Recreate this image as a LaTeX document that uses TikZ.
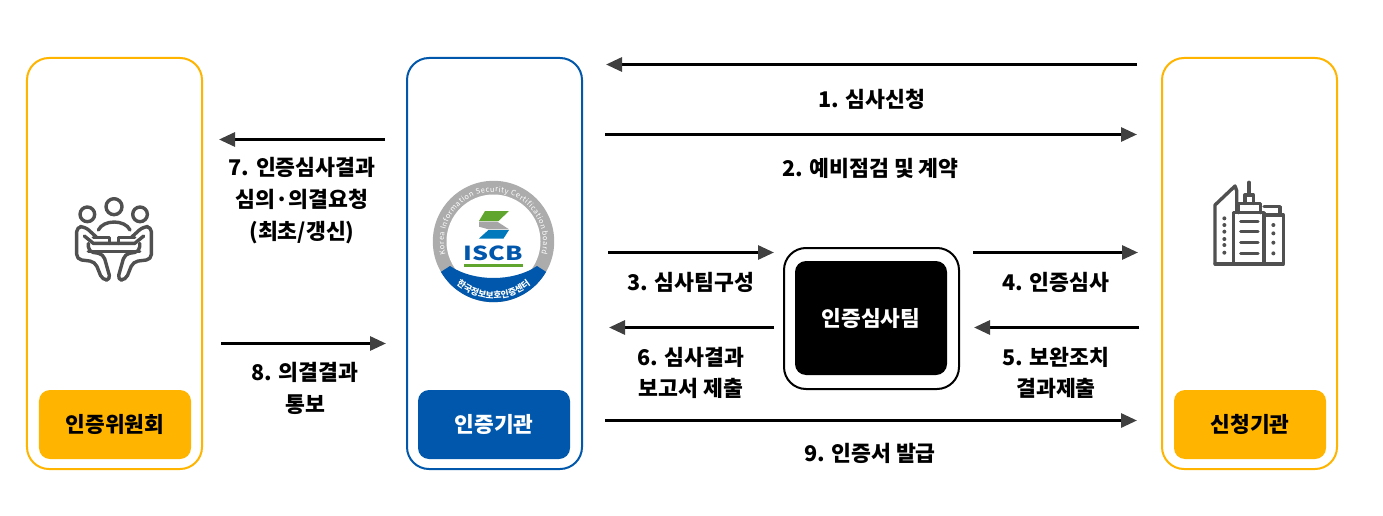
\documentclass[tikz,border=0pt]{standalone}
\usepackage{fontspec}
\setmainfont{Noto Sans CJK KR}
\usetikzlibrary{arrows.meta, decorations.text}
\definecolor{Gold}{HTML}{FFB400}
\definecolor{Navy}{HTML}{0057AB}
\definecolor{Ink}{HTML}{505050}
\definecolor{Leaf}{HTML}{5FA52E}
\tikzset{
    panel/.style = {draw, line width = 0.4mm, rounded corners = 4.4mm, minimum width = 35mm, minimum height = 82.2mm},
    tag/.style = {rounded corners = 2.2mm, minimum width = 30.4mm, minimum height = 13.8mm, font = \fontsize{12.2}{14}\selectfont\bfseries},
    step label/.style = {align = center, font = \fontsize{12.3}{18}\selectfont\bfseries},
    flow/.style = {line width = 0.6mm, -{Triangle[length = 3.2mm, width = 2.8mm, color = black!75]}},
    icon/.style = {draw = Ink, line width = 0.68mm, line join = round, line cap = round}
}
\begin{document}
\begin{tikzpicture}[x = 0.2mm, y = -0.2mm]
    \useasboundingbox (0, 0) rectangle (1383, 516);
    \node[panel, draw = Gold] (Committee) at (114.5, 263.5) {};
    \node[panel, draw = Navy] (Agency) at (494.5, 263.5) {};
    \node[panel, draw = Gold] (Applicant) at (1249.5, 263.5) {};
    \node[tag, fill = Gold] (Committee Tag) at (115, 424.5) {인증위원회};
    \node[tag, fill = Navy, text = white] (Agency Tag) at (494, 424.5) {인증기관};
    \node[tag, fill = Gold] (Applicant Tag) at (1250, 424.5) {신청기관};
    \node[draw, line width = 0.4mm, rounded corners = 4.4mm, minimum width = 35mm, minimum height = 28.2mm] (Team Frame) at (871.5, 318.5) {};
    \node[fill = black, text = white, rounded corners = 2.2mm, minimum width = 30.4mm, minimum height = 22.8mm, font = \fontsize{12.2}{14}\selectfont\bfseries] (Team) at (871, 318) {인증심사팀};
    \coordinate (Flow1 Start) at (1137, 64.5);
    \coordinate (Flow1 End) at (606, 64.5);
    \coordinate (Flow2 Start) at (605, 134.5);
    \coordinate (Flow2 End) at (1137, 134.5);
    \coordinate (Flow3 Start) at (608, 252.5);
    \coordinate (Flow3 End) at (774, 252.5);
    \coordinate (Flow4 Start) at (973, 252.5);
    \coordinate (Flow4 End) at (1138, 252.5);
    \coordinate (Flow5 Start) at (1139, 327.5);
    \coordinate (Flow5 End) at (974, 327.5);
    \coordinate (Flow6 Start) at (774, 327.5);
    \coordinate (Flow6 End) at (609, 327.5);
    \coordinate (Flow7 Start) at (385, 139.5);
    \coordinate (Flow7 End) at (219, 139.5);
    \coordinate (Flow8 Start) at (221, 343.5);
    \coordinate (Flow8 End) at (386, 343.5);
    \coordinate (Flow9 Start) at (605, 420.5);
    \coordinate (Flow9 End) at (1137, 420.5);
    \draw[flow] (Flow1 Start) -- (Flow1 End);
    \draw[flow] (Flow2 Start) -- (Flow2 End);
    \draw[flow] (Flow3 Start) -- (Flow3 End);
    \draw[flow] (Flow4 Start) -- (Flow4 End);
    \draw[flow] (Flow5 Start) -- (Flow5 End);
    \draw[flow] (Flow6 Start) -- (Flow6 End);
    \draw[flow] (Flow7 Start) -- (Flow7 End);
    \draw[flow] (Flow8 Start) -- (Flow8 End);
    \draw[flow] (Flow9 Start) -- (Flow9 End);
    \node[step label] (Label1) at (871.5, 99) {1. 심사신청};
    \node[step label] (Label2) at (870.5, 168) {2. 예비점검 및 계약};
    \node[step label] (Label3) at (691, 282) {3. 심사팀구성};
    \node[step label] (Label4) at (1055.5, 282) {4. 인증심사};
    \node[step label] (Label5) at (1056, 373) {5. 보완조치\\결과제출};
    \node[step label] (Label6) at (691, 373) {6. 심사결과\\보고서 제출};
    \node[step label] (Label7) at (302, 200.5) {7. 인증심사결과\\심의·의결요청\\(최초/갱신)};
    \node[step label] (Label8) at (305, 388.5) {8. 의결결과\\통보};
    \node[step label] (Label9) at (870, 453) {9. 인증서 발급};
    \begin{scope}[shift = {(50, 180)}, x = 0.0667mm, y = -0.0667mm, icon]
        \draw (192, 80) circle (24);
        \draw (112, 103) circle (22);
        \draw (270, 103) circle (22);
        \draw (145, 150) .. controls (160, 118) and (225, 118) .. (240, 150);
        \draw[rounded corners = 1mm] (140, 172) -- (105, 140) -- (80, 140) -- (80, 238) -- (135, 245) -- (157, 300) -- (182, 300) -- (160, 222) -- (115, 215) -- (115, 190);
        \draw[rounded corners = 1mm] (244, 172) -- (279, 140) -- (304, 140) -- (304, 238) -- (249, 245) -- (227, 300) -- (202, 300) -- (224, 222) -- (269, 215) -- (269, 190);
        \draw (103, 168) -- (130, 190) -- (254, 190) -- (281, 168);
        \draw (130, 172) -- (178, 172) -- (178, 190);
        \draw (254, 172) -- (206, 172) -- (206, 190);
        \draw (115, 215) -- (269, 215);
    \end{scope}
    \begin{scope}[shift = {(1190, 170)}, x = 0.0667mm, y = -0.0667mm, icon]
        \draw (75, 282) -- (75, 105) -- (135, 48) -- (140, 62) -- (140, 125);
        \draw (75, 282) -- (280, 282) -- (280, 135) -- (222, 135);
        \draw (130, 282) -- (130, 128) -- (222, 128) -- (222, 282);
        \draw (145, 128) -- (145, 100) -- (212, 100) -- (212, 128);
        \draw (165, 100) -- (165, 75) -- (190, 75) -- (190, 100);
        \draw (177, 75) -- (177, 37);
        \draw (222, 110) -- (270, 110) -- (270, 135);
        \foreach \rowy in {155, 185, 218, 250}
            \draw (152, \rowy) -- (204, \rowy);
        \foreach \doty in {145, 165, 185, 207, 225, 248}
            \fill[Ink] (103, \doty) circle (6);
        \foreach \doty in {165, 190, 218, 250}
            \fill[Ink] (250, \doty) circle (6);
    \end{scope}
    \begin{scope}[shift = {(493.5, 241.5)}, x = 0.2mm, y = 0.2mm]
        \fill[gray!65] (0, 0) circle (60.7);
        \fill[white] (0, 0) circle (47);
        \fill[Navy] (210:60.7) arc[start angle = 210, end angle = 330, radius = 60.7] -- (43.5, -24.5) .. controls (20, -40.5) and (-20, -40.5) .. (-43.5, -24.5) -- cycle;
        \path[decorate, decoration = {text along path, text = {|\fontsize{4.2}{5}\selectfont\color{white}|Korea Information Security Certification board}, text align = {fit to path}}] (195:49.5) arc[start angle = 195, end angle = -15, radius = 49.5];
        \path[decorate, decoration = {text along path, text = {|\fontsize{5}{6}\selectfont\bfseries\color{white}|한국정보보호인증센터}, text align = {center}}] (222:57) arc[start angle = 222, end angle = 318, radius = 57];
        \fill[Leaf] (-8.5, 30.5) -- (15.5, 30.5) -- (5, 20.5) -- (-14.5, 20.5) -- cycle;
        \fill[gray!70] (-14.5, 19.8) -- (3.8, 19.8) -- (15.5, 12.2) -- (-5, 12.2) -- (-14.5, 14.8) -- cycle;
        \fill[Navy!80!cyan] (-5, 11.5) -- (15.5, 11.5) -- (10, 3) -- (-14.5, 3) -- cycle;
    \end{scope}
    \node[text = Navy, font = \fontsize{11}{11}\selectfont\bfseries, inner sep = 0pt, transform shape, xscale = 1.3] (Mark) at (493.5, 253) {ISCB};
    \fill[Leaf] (464, 263.5) rectangle (523, 266.5);
\end{tikzpicture}
\end{document}
